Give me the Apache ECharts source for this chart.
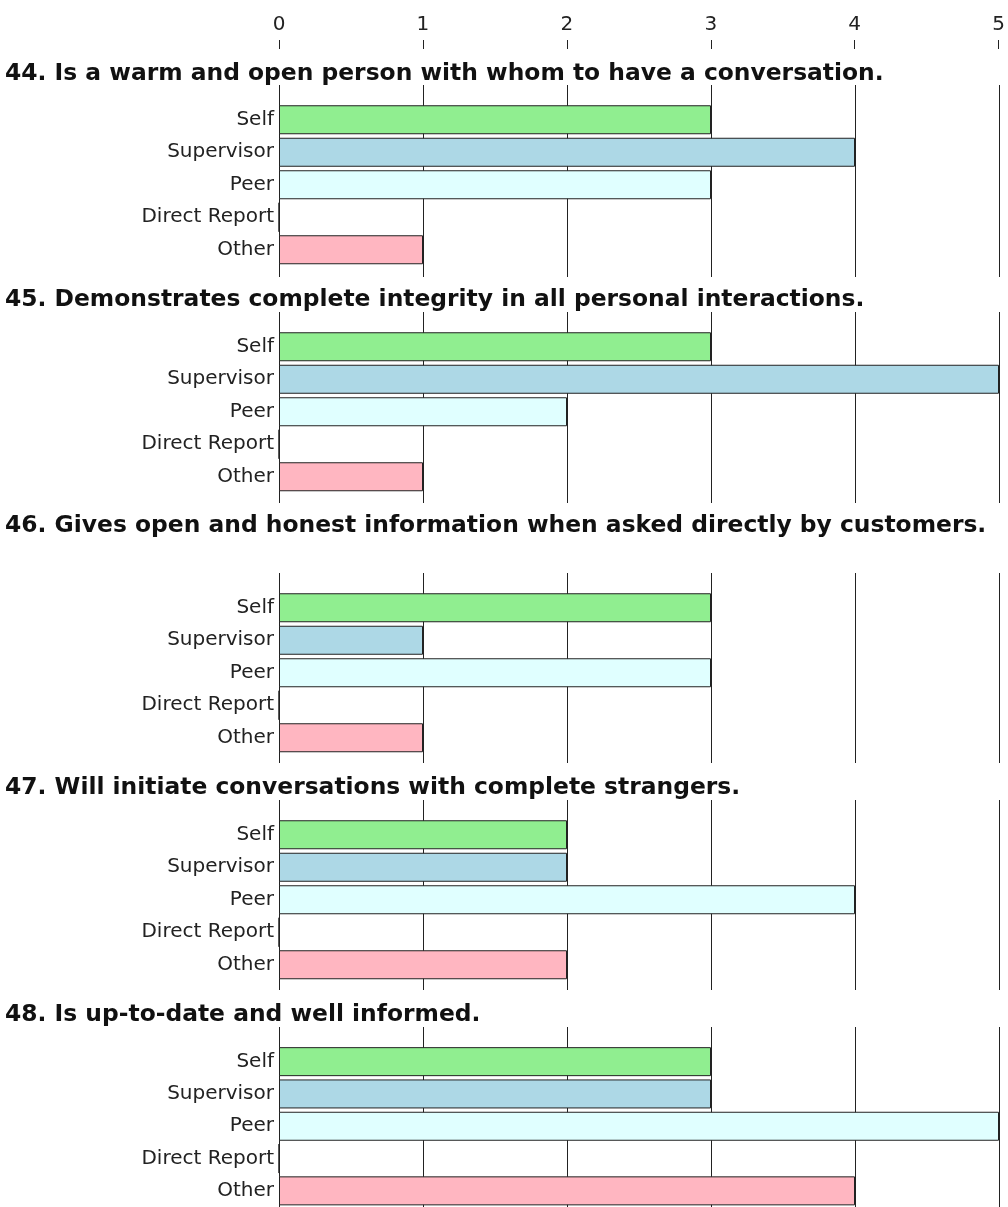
<!DOCTYPE html>
<html>
<head>
<meta charset="utf-8">
<style>
  html, body { margin: 0; padding: 0; background: #fff; }
  #chart { width: 1008px; height: 1207px; }
</style>
<script src="https://cdn.jsdelivr.net/npm/echarts@6/dist/echarts.min.js"></script>
</head>
<body>
<div id="chart"></div>
<script>
// Rater groups, one bar each per question
const categories = ['Self', 'Supervisor', 'Peer', 'Direct Report', 'Other'];

// Question texts
const questions = [
  '44. Is a warm and open person with whom to have a conversation.',
  '45. Demonstrates complete integrity in all personal interactions.',
  '46. Gives open and honest information when asked directly by customers.',
  '47. Will initiate conversations with complete strangers.',
  '48. Is up-to-date and well informed.'
];

// Scores per rater group for each question
const scores44 = [3, 4, 3, 0, 1];
const scores45 = [3, 5, 2, 0, 1];
const scores46 = [3, 1, 3, 0, 1];
const scores47 = [2, 2, 4, 0, 2];
const scores48 = [3, 3, 5, 0, 4];

// Scale tick labels
const tickLabels = ['0', '1', '2', '3', '4', '5'];

// ---- styling & layout ----
const barColors = ['#90ee90', '#add8e6', '#e0ffff', '#ffffff', '#ffb6c1'];
const allScores = [scores44, scores45, scores46, scores47, scores48];
const panelTop = [85, 312, 573, 800, 1027];     // top of each panel's gridlines
const panelHeight = [192, 191, 190, 190, 200];
const titleTop = [62, 288, 514, 776, 1003];
const plotLeft = 279;
const plotWidth = 720;
const fontFamily = 'DejaVu Sans';
const ink = '#222';

const grid = [];
const xAxis = [];
const yAxis = [];
const series = [];
const title = [];

// shared top scale: labels and short ticks only
grid.push({ left: plotLeft, width: plotWidth, top: 49, height: 10 });
xAxis.push({
  gridIndex: 0, type: 'value', position: 'top', min: 0, max: 5, interval: 1,
  axisLine: { show: false, onZero: false },
  axisTick: { show: true, length: 9, lineStyle: { color: ink, width: 1 } },
  axisLabel: {
    margin: 14, color: ink, fontSize: 20, fontFamily,
    formatter: v => tickLabels[v]
  },
  splitLine: { show: false }
});
yAxis.push({ gridIndex: 0, type: 'value', show: false });

allScores.forEach((scores, p) => {
  // background grid carrying the vertical gridlines
  const bg = grid.length;
  grid.push({ left: plotLeft, width: plotWidth, top: panelTop[p], height: panelHeight[p] });
  xAxis.push({
    gridIndex: bg, type: 'value', min: 0, max: 5, interval: 1,
    axisLine: { show: false, onZero: false }, axisTick: { show: false }, axisLabel: { show: false },
    splitLine: { show: true, lineStyle: { color: ink, width: 1 } }
  });
  yAxis.push({ gridIndex: bg, type: 'value', show: false });

  // bar grid
  const g = grid.length;
  grid.push({ left: plotLeft, width: plotWidth, top: panelTop[p] + 18.5, height: 162.5 });
  xAxis.push({
    gridIndex: g, type: 'value', min: 0, max: 5, interval: 1, show: false,
    splitLine: { show: false }
  });
  yAxis.push({
    gridIndex: g, type: 'category', inverse: true, data: categories,
    axisLine: { show: true, onZero: false, lineStyle: { color: ink, width: 1 } },
    axisTick: { show: false },
    axisLabel: { margin: 5, color: ink, fontSize: 20, fontFamily },
    splitLine: { show: false }
  });
  series.push({
    type: 'bar', xAxisIndex: g, yAxisIndex: g, barWidth: 29,
    silent: true, animation: false,
    data: scores.map((v, i) => ({
      value: v,
      itemStyle: { color: barColors[i], borderColor: ink, borderWidth: 1 }
    }))
  });

  title.push({
    text: questions[p], left: 5, top: titleTop[p], padding: 0,
    textStyle: { fontSize: 23.4, fontWeight: 'bold', fontFamily, color: '#111' }
  });
});

const chart = echarts.init(document.getElementById('chart'), null, { renderer: 'canvas' });
chart.setOption({
  backgroundColor: '#fff',
  animation: false,
  title, grid, xAxis, yAxis, series
});
</script>
</body>
</html>
